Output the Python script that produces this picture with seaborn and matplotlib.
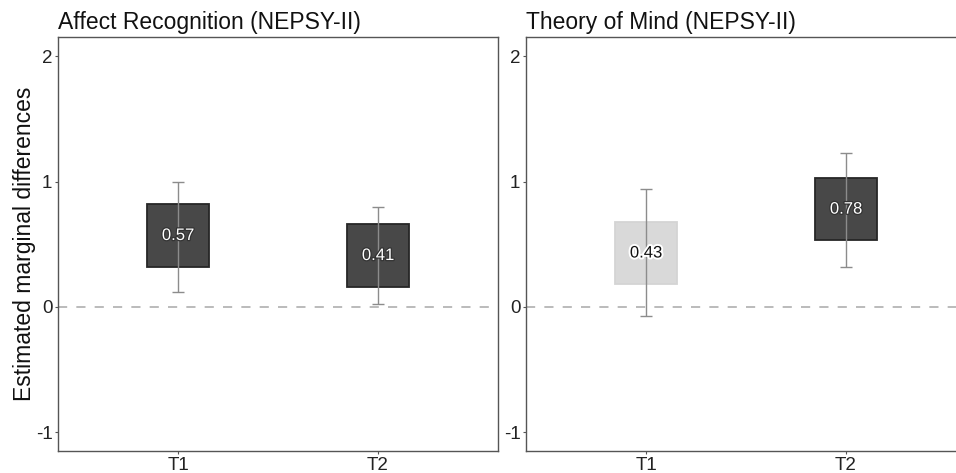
import numpy as np
import pandas as pd
import matplotlib
matplotlib.use("Agg")
import matplotlib.pyplot as plt
import matplotlib.patheffects as pe
import seaborn as sns

# data
timepoints = ["T1", "T2"]
panel_titles = ["Affect Recognition (NEPSY-II)", "Theory of Mind (NEPSY-II)"]
estimates = [[0.57, 0.41], [0.43, 0.78]]
ci_low = [[0.12, 0.02], [-0.07, 0.32]]
ci_high = [[1.00, 0.80], [0.94, 1.23]]
significant = [[True, True], [False, True]]

box_half = 0.25
box_width = 0.31

sns.set_theme(style="white")
plt.rcParams["font.family"] = ["Liberation Sans", "DejaVu Sans"]

fig = plt.figure(figsize=(9.56, 4.73), dpi=100)
W, H = 956, 473
top_px, bot_px = 37.5, 451
axes_pos = [
    [58 / W, 1 - bot_px / H, 440 / W, (bot_px - top_px) / H],
    [526 / W, 1 - bot_px / H, 440 / W, (bot_px - top_px) / H],
]

for i in range(2):
    ax = fig.add_axes(axes_pos[i])
    df = pd.DataFrame({
        "time": timepoints,
        "est": estimates[i],
        "lo": ci_low[i],
        "hi": ci_high[i],
        "sig": significant[i],
    })
    x = np.arange(len(df))
    ax.axhline(0, color="#a8a8a8", lw=1.1, ls=(0, (6, 6)), zorder=1)
    fills = ["#484848" if s else "#d9d9d9" for s in df["sig"]]
    edges = ["#262626" if s else "#d4d4d4" for s in df["sig"]]
    ax.bar(x, 2 * box_half, bottom=df["est"] - box_half, width=box_width,
           color=fills, edgecolor=edges, linewidth=1.3, zorder=2)
    ax.errorbar(x, df["est"], yerr=[df["est"] - df["lo"], df["hi"] - df["est"]],
                fmt="none", ecolor="#8c8c8c", elinewidth=1.0, capsize=4,
                capthick=1.0, zorder=3)
    for xi, (v, s) in enumerate(zip(df["est"], df["sig"])):
        if s:
            ax.text(xi, v, f"{v:.2f}", ha="center", va="center", fontsize=12,
                    color="white", zorder=4,
                    path_effects=[pe.withStroke(linewidth=1.8, foreground="#333333")])
        else:
            ax.text(xi, v, f"{v:.2f}", ha="center", va="center", fontsize=12,
                    color="#111111", zorder=4,
                    path_effects=[pe.withStroke(linewidth=2.8, foreground="white")])
    ax.set_xlim(-0.6, 1.6)
    ax.set_ylim(-1.15, 2.15)
    ax.set_xticks(x)
    ax.set_xticklabels(df["time"])
    ax.set_yticks([-1, 0, 1, 2])
    ax.set_yticklabels(["-1", "0", "1", "2"])
    ax.tick_params(axis="both", which="major", direction="out", length=2.5,
                   width=0.8, color="#555555", labelsize=13.5,
                   labelcolor="#222222", pad=1.5)
    ax.tick_params(axis="x", bottom=True)
    ax.tick_params(axis="y", left=True)
    for sp in ax.spines.values():
        sp.set_color("#555555")
        sp.set_linewidth(1.0)
    ax.set_xlabel("")
    ax.set_ylabel("")
    ax.set_title(panel_titles[i], loc="left", fontsize=16.5, color="#111111", pad=6)
    if i == 0:
        ax.set_ylabel("Estimated marginal differences", fontsize=16.5, color="#111111",
                      labelpad=0)

fig.savefig("out.png", dpi=100)
